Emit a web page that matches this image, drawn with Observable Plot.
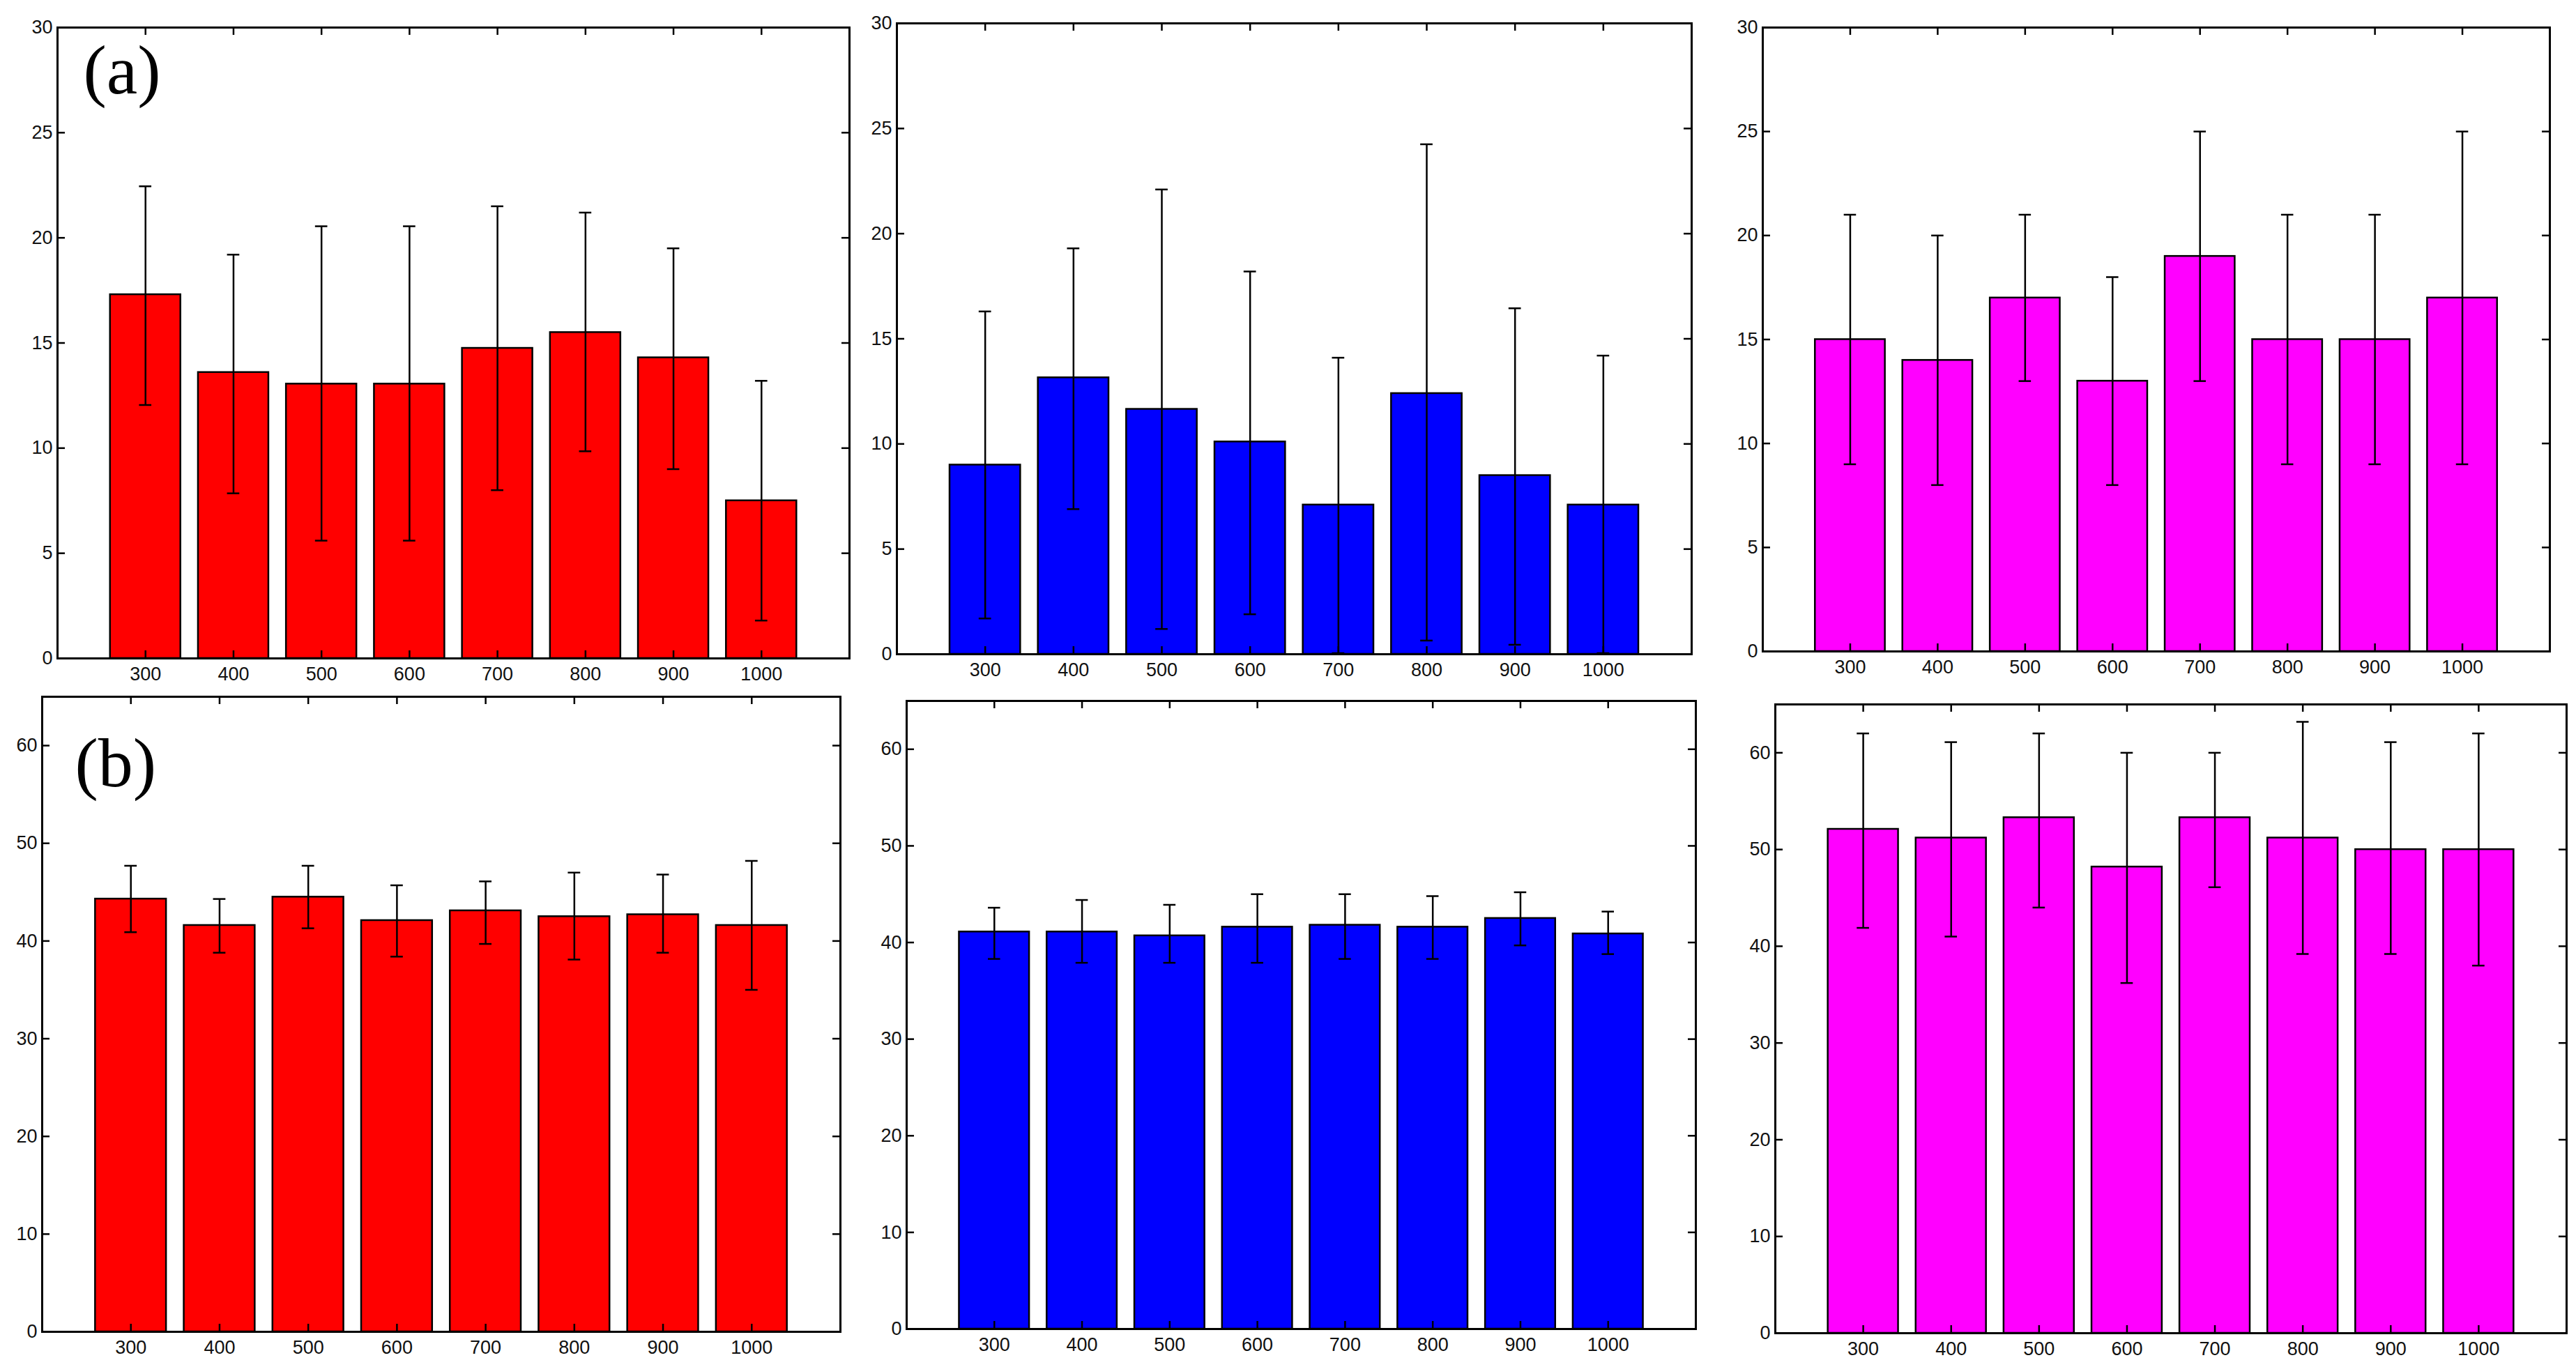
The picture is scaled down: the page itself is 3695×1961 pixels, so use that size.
<!DOCTYPE html>
<html>
<head>
<meta charset="utf-8">
<script src="https://cdn.jsdelivr.net/npm/d3@7"></script>
<script src="https://cdn.jsdelivr.net/npm/@observablehq/plot@0.6"></script>
<style>
  html, body { margin: 0; padding: 0; background: #ffffff; }
  #wrap { position: relative; width: 3695px; height: 1961px; overflow: hidden; background: #ffffff; }
  #wrap > svg { position: absolute; }
</style>
</head>
<body>
<div id="wrap"></div>
<script>
// ---- data ----
const categories = [300, 400, 500, 600, 700, 800, 900, 1000];

const aRedMean = [17.3, 13.6, 13.05, 13.05, 14.75, 15.5, 14.3, 7.5];
const aRedHi   = [22.45, 19.2, 20.55, 20.55, 21.5, 21.2, 19.5, 13.2];
const aRedLo   = [12.05, 7.85, 5.6, 5.6, 8.0, 9.85, 9.0, 1.8];

const aBlueMean = [9.0, 13.15, 11.65, 10.1, 7.1, 12.4, 8.5, 7.1];
const aBlueHi   = [16.3, 19.3, 22.1, 18.2, 14.1, 24.25, 16.45, 14.2];
const aBlueLo   = [1.7, 6.9, 1.2, 1.9, 0.05, 0.65, 0.45, 0.05];

const aMagMean = [15, 14, 17, 13, 19, 15, 15, 17];
const aMagHi   = [21, 20, 21, 18, 25, 21, 21, 25];
const aMagLo   = [9, 8, 13, 8, 13, 9, 9, 9];

const bRedMean = [44.3, 41.6, 44.5, 42.1, 43.1, 42.5, 42.7, 41.6];
const bRedHi   = [47.7, 44.3, 47.7, 45.7, 46.1, 47.0, 46.8, 48.2];
const bRedLo   = [40.9, 38.8, 41.3, 38.4, 39.7, 38.1, 38.8, 35.0];

const bBlueMean = [41.1, 41.1, 40.7, 41.6, 41.8, 41.6, 42.5, 40.9];
const bBlueHi   = [43.6, 44.4, 43.9, 45.0, 45.0, 44.8, 45.2, 43.2];
const bBlueLo   = [38.3, 37.9, 37.9, 37.9, 38.3, 38.3, 39.7, 38.8];

const bMagMean = [52.1, 51.2, 53.3, 48.2, 53.3, 51.2, 50.0, 50.0];
const bMagHi   = [62.0, 61.1, 62.0, 60.0, 60.0, 63.2, 61.1, 62.0];
const bMagLo   = [41.9, 41.0, 44.0, 36.2, 46.1, 39.2, 39.2, 38.0];

const topYTicks = [0, 5, 10, 15, 20, 25, 30];
const bottomYTicks = [0, 10, 20, 30, 40, 50, 60];
const topYDomain = [0, 30];
const bottomYDomain = [0, 65];
const xDomain = [200, 1100];

const panelLetters = ["(a)", "(b)"];

// ---- layout (frame boxes in page pixels) ----
const panels = [
  {mean: aRedMean,  hi: aRedHi,  lo: aRedLo,  color: "#ff0000", yTicks: topYTicks, yDomain: topYDomain, box: [82, 1218, 39, 944],   letter: panelLetters[0], ldx: 37, ldy: 23},
  {mean: aBlueMean, hi: aBlueHi, lo: aBlueLo, color: "#0000ff", yTicks: topYTicks, yDomain: topYDomain, box: [1286, 2426, 33, 938]},
  {mean: aMagMean,  hi: aMagHi,  lo: aMagLo,  color: "#ff00ff", yTicks: topYTicks, yDomain: topYDomain, box: [2528, 3657, 39, 934]},
  {mean: bRedMean,  hi: bRedHi,  lo: bRedLo,  color: "#ff0000", yTicks: bottomYTicks, yDomain: bottomYDomain, box: [60, 1205, 999, 1910],   letter: panelLetters[1], ldx: 47, ldy: 57},
  {mean: bBlueMean, hi: bBlueHi, lo: bBlueLo, color: "#0000ff", yTicks: bottomYTicks, yDomain: bottomYDomain, box: [1300, 2432, 1005, 1906]},
  {mean: bMagMean,  hi: bMagHi,  lo: bMagLo,  color: "#ff00ff", yTicks: bottomYTicks, yDomain: bottomYDomain, box: [2546, 3681, 1010, 1912]}
];

const mL = 70, mR = 10, mT = 10, mB = 50;
const tickLen = 11;
const wrap = document.getElementById("wrap");

for (const p of panels) {
  const [x0, x1, y0, y1] = p.box;
  const fw = x1 - x0, fh = y1 - y0;
  const rows = categories.map((c, i) => ({x: c, v: p.mean[i], hi: p.hi[i], lo: p.lo[i]}));
  const marks = [
    Plot.rect(rows, {x1: d => d.x - 40, x2: d => d.x + 40, y1: () => 0, y2: "v", fill: p.color, stroke: "black", strokeWidth: 2.5}),
    Plot.ruleX(rows, {x: "x", y1: "lo", y2: "hi", stroke: "black", strokeWidth: 2.5}),
    Plot.ruleY(rows, {y: "hi", x1: d => d.x - 7, x2: d => d.x + 7, stroke: "black", strokeWidth: 2.5}),
    Plot.ruleY(rows, {y: "lo", x1: d => d.x - 7, x2: d => d.x + 7, stroke: "black", strokeWidth: 2.5}),
    // inward ticks on all four sides
    Plot.tickY(p.yTicks, {y: d => d, insetRight: fw - tickLen, stroke: "black", strokeWidth: 2.5}),
    Plot.tickY(p.yTicks, {y: d => d, insetLeft: fw - tickLen, stroke: "black", strokeWidth: 2.5}),
    Plot.tickX(categories, {x: d => d, insetBottom: fh - tickLen, stroke: "black", strokeWidth: 2.5}),
    Plot.tickX(categories, {x: d => d, insetTop: fh - tickLen, stroke: "black", strokeWidth: 2.5}),
    Plot.frame({stroke: "black", strokeWidth: 3}),
    Plot.axisX(categories, {tickSize: 0, tickPadding: 12, label: null, fontSize: 27, fill: "#111", tickFormat: d => String(d)}),
    Plot.axisY(p.yTicks, {tickSize: 0, tickPadding: 7, label: null, fontSize: 27, fill: "#111", tickFormat: d => String(d)})
  ];
  if (p.letter) {
    marks.push(Plot.text([p.letter], {
      text: d => d, frameAnchor: "top-left", textAnchor: "start", lineAnchor: "top",
      dx: p.ldx, dy: p.ldy, fontSize: 100, fontFamily: "'Liberation Serif', 'DejaVu Serif', serif", fill: "black"
    }));
  }
  const svg = Plot.plot({
    width: fw + mL + mR,
    height: fh + mT + mB,
    marginLeft: mL, marginRight: mR, marginTop: mT, marginBottom: mB,
    x: {domain: xDomain},
    y: {domain: p.yDomain},
    style: {fontFamily: "Liberation Sans, Arial, sans-serif", fontSize: "27px", background: "transparent", color: "black", overflow: "visible"},
    marks
  });
  svg.style.left = (x0 - mL) + "px";
  svg.style.top = (y0 - mT) + "px";
  wrap.appendChild(svg);
}
</script>
</body>
</html>
